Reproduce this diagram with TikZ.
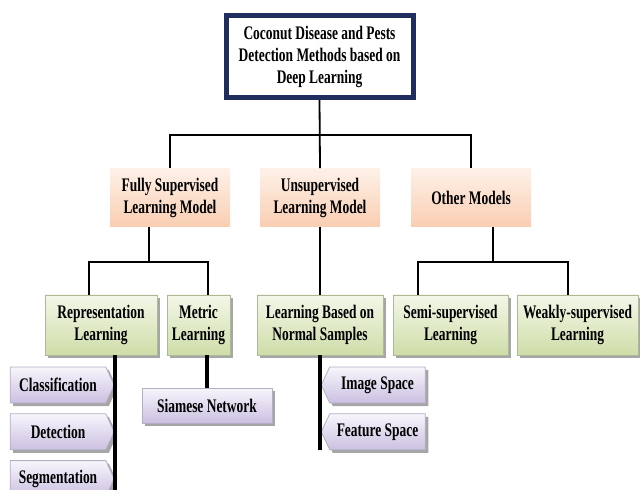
\documentclass[tikz,border=0pt]{standalone}
\usepackage{fontspec}
\setmainfont{Liberation Serif}[FakeStretch=0.7]
\usetikzlibrary{positioning,shapes.symbols,shadows}
\definecolor{rootcolor}{RGB}{31,45,95}
\definecolor{peachtop}{RGB}{254,241,232}
\definecolor{peachbot}{RGB}{249,206,178}
\definecolor{leaftop}{RGB}{243,247,232}
\definecolor{leafbot}{RGB}{206,221,168}
\definecolor{tasktop}{RGB}{248,245,252}
\definecolor{taskbot}{RGB}{203,192,225}

\begin{document}
\begin{tikzpicture}[%
    x=0.5pt, y=-0.5pt,          % pixel grid of the figure, y going down
    node distance=5pt and 10pt, % gap between stacked tasks
    font=\bfseries\fontsize{9.6}{11}\selectfont,
    ]
\tikzset{
  base/.style={align=center, inner sep=2pt},
  boxshadow/.style={drop shadow={shadow xshift=1.5pt, shadow yshift=-1.5pt, fill=black, opacity=0.35}},
  rootbox/.style={base, rectangle, draw=rootcolor, line width=2.5pt, fill=white,
    minimum width=93.5pt, minimum height=41pt, boxshadow},
  model/.style={base, rectangle, top color=peachtop, bottom color=peachbot,
    minimum width=60pt, minimum height=29pt},
  leaf/.style={base, rectangle, draw=leafbot!60!gray, top color=leaftop, bottom color=leafbot,
    minimum height=30pt, boxshadow},
  task/.style={base, signal, signal pointer angle=130, draw=taskbot!70!gray,
    top color=tasktop, bottom color=taskbot, minimum width=52pt, minimum height=18pt, boxshadow},
  taskbox/.style={base, rectangle, draw=taskbot!70!gray, top color=tasktop, bottom color=taskbot,
    minimum width=65pt, minimum height=17.5pt, boxshadow},
  conn/.style={draw, line width=0.9pt},
  stem/.style={draw, line width=2pt},
}
\clip (0,0) rectangle (640,490);

\node [rootbox] (root) at (319.5,56.5) {Coconut Disease and Pests\\Detection Methods based on\\Deep Learning};
\draw [rootcolor, line width=0.6pt] ([shift={(4,4)}]root.north west) rectangle ([shift={(-4,-4)}]root.south east);

\node [model] (fsl) at (170,197.5) {Fully Supervised\\Learning Model};
\node [model] (usl) at (320,197.5) {Unsupervised\\Learning Model};
\node [model] (oth) at (471,197.5) {Other Models};

\node [leaf, minimum width=56pt] (rep) at (101,325) {Representation\\Learning};
\node [leaf, minimum width=31.5pt] (met) at (198.5,325) {Metric\\Learning};
\node [leaf, minimum width=63pt] (lbn) at (320,325) {Learning Based on\\Normal Samples};
\node [leaf, minimum width=57.5pt] (semi) at (450.5,325) {Semi-supervised\\Learning};
\node [leaf, minimum width=60.5pt] (weak) at (577.5,325) {Weakly-supervised\\Learning};

\node [task, signal to=east] (cls) at (58,385) {Classification};
\node [task, signal to=east, below=of cls] (det) {Detection};
\node [task, signal to=east, below=of det] (seg) {Segmentation};
\node [taskbox] (sia) at (207,405.5) {Siamese Network};
\node [task, signal to=west] (img) at (377.5,385) {Image Space};
\node [task, signal to=west, below=of img] (fea) {Feature Space};

%buses
\coordinate (bus0) at (320,135);
\coordinate (bus1) at (149,262);
\coordinate (bus1w) at (89,262);
\coordinate (bus1e) at (208,262);
\coordinate (bus2) at (493,262);
\coordinate (bus2w) at (418,262);
\coordinate (bus2e) at (568,262);
\coordinate (repend) at (115,495);
\coordinate (lbnend) at (320,450);

%connect
\draw [conn] (root.south) -- (usl.north);
\draw [conn] (fsl.north) |- (bus0) -| (oth.north);
\draw [conn] (bus1) -- (bus1 |- fsl.south);
\draw [conn] (bus1w |- rep.north) |- (bus1e) -- (bus1e |- met.north);
\draw [conn] (usl.south) -- (lbn.north);
\draw [conn] (bus2) -- (bus2 |- oth.south);
\draw [conn] (bus2w |- semi.north) |- (bus2e) -- (bus2e |- weak.north);

\draw [stem] (repend |- rep.south) -- (repend);
\draw [stem] (sia.north) -- (sia.north |- met.south);
\draw [stem] (lbn.south) -- (lbnend);

\end{tikzpicture}
\end{document}
